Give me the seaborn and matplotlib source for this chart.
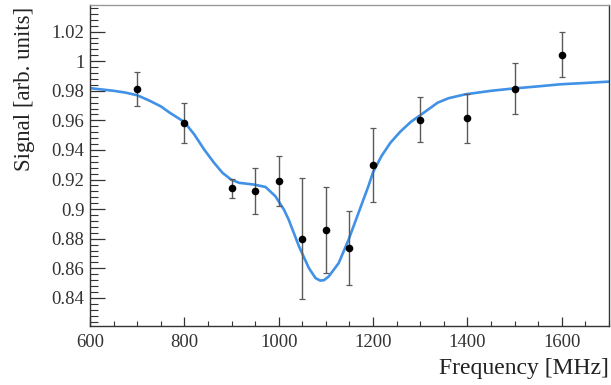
import matplotlib
matplotlib.use('Agg')
import matplotlib.pyplot as plt
import seaborn as sns
import pandas as pd
from matplotlib.ticker import MultipleLocator, FuncFormatter

# Datos medidos (puntos con barras de error)
frecuencia = [700, 800, 900, 950, 1000, 1050, 1100, 1150, 1200, 1300, 1400, 1500, 1600]
senal = [0.981, 0.958, 0.914, 0.912, 0.919, 0.880, 0.886, 0.874, 0.930, 0.9605, 0.9615, 0.9815, 1.0045]
error = [0.0115, 0.0135, 0.0065, 0.0155, 0.017, 0.041, 0.029, 0.025, 0.025, 0.015, 0.0165, 0.017, 0.0155]

# Curva de ajuste
ajuste_x = [600, 650, 675, 700, 725, 750, 769, 800, 821, 842, 863, 881, 899, 916, 948, 972,
            993, 1011, 1021, 1043, 1064, 1078, 1088, 1096, 1106, 1127, 1148, 1169, 1190, 1200,
            1218, 1237, 1258, 1280, 1300, 1337, 1360, 1395, 1450, 1495, 1550, 1597, 1650, 1700]
ajuste_y = [0.9818, 0.980, 0.9788, 0.977, 0.9735, 0.9695, 0.9652, 0.9589, 0.9505, 0.9403,
            0.9313, 0.9245, 0.920, 0.9178, 0.9166, 0.915, 0.9087, 0.8997, 0.893, 0.8748,
            0.8601, 0.8534, 0.8517, 0.8520, 0.8545, 0.8635, 0.8793, 0.8974, 0.9155, 0.925,
            0.936, 0.945, 0.9525, 0.959, 0.9635, 0.972, 0.975, 0.9776, 0.980, 0.9815, 0.983,
            0.9844, 0.9853, 0.9862]

sns.set_style('ticks')
plt.rcParams['font.family'] = ['Liberation Serif', 'DejaVu Serif']

fig = plt.figure(figsize=(6.11, 3.85), dpi=100)
ax = fig.add_axes([0.1473, 0.1532, 0.8494, 0.8338])

df_ajuste = pd.DataFrame({'x': ajuste_x, 'y': ajuste_y})
sns.lineplot(data=df_ajuste, x='x', y='y', ax=ax, color='#4191e6', linewidth=1.9, sort=False,
             zorder=2, solid_joinstyle='round', solid_capstyle='round')

ax.errorbar(frecuencia, senal, yerr=error, fmt='none', ecolor='#5a5a5a', elinewidth=1.0,
            capsize=2.5, capthick=0.9, zorder=3)
df_datos = pd.DataFrame({'f': frecuencia, 's': senal})
sns.scatterplot(data=df_datos, x='f', y='s', ax=ax, color='black', s=30, edgecolor='black',
                linewidth=0, zorder=4)

ax.set_xlim(600, 1700)
ax.set_ylim(0.821, 1.038)

ax.xaxis.set_major_locator(MultipleLocator(200))
ax.xaxis.set_minor_locator(MultipleLocator(50))
ax.yaxis.set_major_locator(MultipleLocator(0.02))
ax.yaxis.set_minor_locator(MultipleLocator(0.004))
ax.yaxis.set_major_formatter(FuncFormatter(lambda v, p: f"{round(v, 3):g}"))

ax.tick_params(axis='both', which='both', direction='in', colors='#333333', labelsize=13.5)
ax.tick_params(axis='y', which='major', length=11, width=0.9, pad=4)
ax.tick_params(axis='y', which='minor', length=6, width=0.8)
ax.tick_params(axis='x', which='major', length=6.5, width=0.9, pad=6)
ax.tick_params(axis='x', which='minor', length=3.6, width=0.8)

for lado in ['left', 'bottom', 'right']:
    ax.spines[lado].set_color('#333333')
    ax.spines[lado].set_linewidth(1.0)
ax.spines['top'].set_color('#999999')
ax.spines['top'].set_linewidth(1.0)

ax.set_xlabel('Frequency [MHz]', fontsize=17, loc='right', color='#222222')
ax.set_ylabel('Signal [arb. units]', fontsize=16.5, loc='top', color='#222222')
ax.xaxis.set_label_coords(1.0, -0.1)
ax.yaxis.set_label_coords(-0.106, 0.995)

fig.savefig('out.png', dpi=100, facecolor='white')
